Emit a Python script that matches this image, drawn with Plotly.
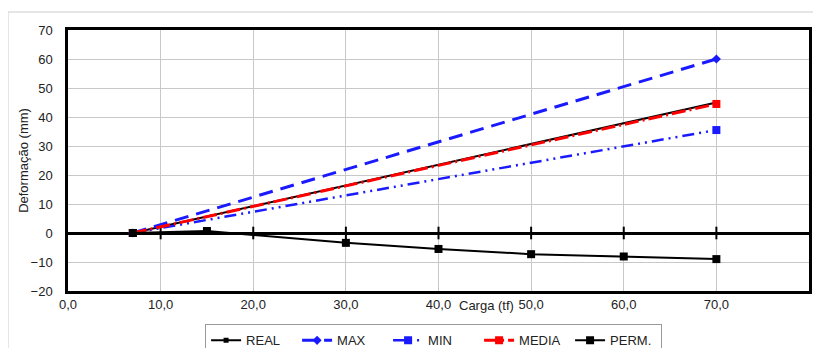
import plotly.graph_objects as go

# Data
real_x = [7, 70]
real_y = [0, 45]
max_x = [7, 70]
max_y = [0, 60]
min_x = [7, 70]
min_y = [0, 35.5]
media_x = [7, 70]
media_y = [0, 44.5]
perm_x = [7, 15, 30, 40, 50, 60, 70]
perm_y = [0, 0.7, -3.4, -5.5, -7.3, -8.1, -9.0]
axis_ticks = [10, 20, 30, 40, 50, 60, 70]

FONT = "Liberation Sans, Arial, sans-serif"
BLUE = "#1a1aff"
RED = "#ff0000"

fig = go.Figure()

# cross tick marks on the zero axis
fig.add_trace(go.Scatter(x=axis_ticks, y=[0] * len(axis_ticks), mode="markers",
                         marker=dict(symbol="line-ns-open", size=9, color="black",
                                     line=dict(color="black", width=2)),
                         showlegend=False, hoverinfo="skip"))

fig.add_trace(go.Scatter(x=real_x, y=real_y, name="REAL", mode="lines+markers",
                         line=dict(color="black", width=2),
                         marker=dict(symbol="square", size=5, color="black")))
fig.add_trace(go.Scatter(x=max_x, y=max_y, name="MAX", mode="lines+markers",
                         line=dict(color=BLUE, width=3, dash="14px,8px"),
                         marker=dict(symbol="diamond", size=7, color=BLUE)))
fig.add_trace(go.Scatter(x=min_x, y=min_y, name="MIN", mode="lines+markers",
                         line=dict(color=BLUE, width=2.5, dash="12px,5px,2px,5px,2px,5px"),
                         marker=dict(symbol="square", size=8, color=BLUE)))
fig.add_trace(go.Scatter(x=media_x, y=media_y, name="MEDIA", mode="lines+markers",
                         line=dict(color=RED, width=3, dash="14px,4px,2px,4px"),
                         marker=dict(symbol="square", size=8, color=RED)))
fig.add_trace(go.Scatter(x=perm_x, y=perm_y, name="PERM.", mode="lines+markers",
                         line=dict(color="black", width=2),
                         marker=dict(symbol="square", size=8, color="black")))

fig.update_layout(
    width=813, height=340,
    margin=dict(l=60, r=12, t=22, b=57, autoexpand=False),
    paper_bgcolor="white", plot_bgcolor="white",
    separators=",.",
    font=dict(family=FONT, size=13, color="#222"),
    showlegend=True,
    legend=dict(orientation="h", x=0.185, xanchor="left", y=-0.128, yanchor="top",
                bordercolor="#999", borderwidth=1, font=dict(size=13, color="#222"),
                entrywidth=46, entrywidthmode="pixels", itemwidth=30, tracegroupgap=0),
    xaxis=dict(range=[0, 80], dtick=10, tick0=0, tickformat=".1f",
               showgrid=True, gridcolor="#c8c8c8", gridwidth=1,
               showline=True, linecolor="black", linewidth=2.5, mirror=True,
               zeroline=False, ticks="", tickfont=dict(size=13, color="#222")),
    yaxis=dict(range=[-20, 70], dtick=10, tick0=0,
               showgrid=True, gridcolor="#c8c8c8", gridwidth=1,
               showline=True, linecolor="black", linewidth=2.5, mirror=True,
               zeroline=True, zerolinecolor="black", zerolinewidth=2.5,
               ticks="", ticklabelstandoff=10, tickfont=dict(size=13, color="#222"),
               title=dict(text="Deformação (mm)", font=dict(size=13, color="#222"), standoff=0)),
    annotations=[dict(text="Carga (tf)", xref="x", yref="paper", x=45.2, y=-0.02,
                      xanchor="center", yanchor="top", showarrow=False,
                      font=dict(size=13, color="#222"))],
    shapes=[dict(type="rect", xref="paper", yref="paper", x0=-0.081, x1=1.2,
                 y0=-0.5, y1=1.069, line=dict(color="#dddddd", width=1.5),
                 fillcolor="rgba(0,0,0,0)", layer="below")],
)

fig.write_html("out.html")
